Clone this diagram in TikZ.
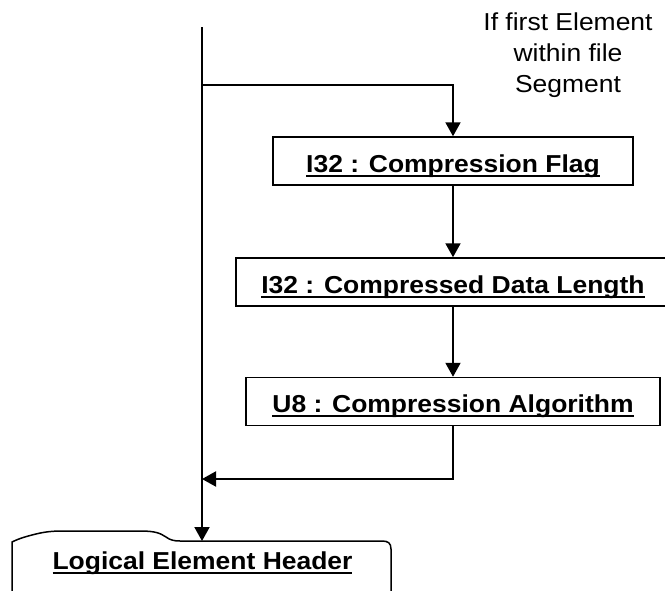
\documentclass[tikz,border=0pt]{standalone}
\usepackage{fontspec}
\setmainfont{Liberation Sans}[FakeStretch=1.08]
\usetikzlibrary{arrows.meta}

% underlined field name: the rule sits a little below the baseline and
% crosses the descenders
\newcommand\fieldname[1]{\leavevmode\setbox0\hbox{\bfseries #1}\dp0=0pt
  \vtop{\copy0\kern2.6pt\hrule height 2.2pt}}

\tikzset{
  field/.style={draw, line width=1.5pt, minimum height=48pt, inner sep=0pt,
    font=\fontsize{24.5}{28}\selectfont, text height=26pt, text depth=4pt},
  flow/.style={line width=2pt, -{Triangle[width=15pt,length=14pt]}},
}

\begin{document}
\begin{tikzpicture}[x=1pt,y=-1pt]
  \useasboundingbox (0,0) rectangle (665,590);

  % data fields
  \node[field, minimum width=360pt] (flag) at (453,161)
    {\fieldname{I32 : Compression Flag}};
  \node[field, minimum width=434pt] (len) at (453,282)
    {\fieldname{I32 : Compressed Data Length}};
  \node[field, minimum width=414pt] (alg) at (453,401.5)
    {\fieldname{U8 : Compression Algorithm}};

  % condition (base anchor = baseline of the last line)
  \node[align=center, font=\fontsize{24.5}{31}\selectfont, inner sep=0pt,
        anchor=base] (cond) at (568,92.7)
    {If first Element\\within file\\Segment};

  % header block with its tab
  \draw[line width=1.5pt]
    (12,600) -- (12,542)
    .. controls (20,538) and (28,536) .. (36,534)
    .. controls (44,532) and (52,531) .. (62,531)
    -- (140,531)
    .. controls (155,531) and (160,533) .. (166,537)
    .. controls (170,540) and (174,541) .. (180,541)
    -- (382,541)
    .. controls (388,541) and (391,543) .. (391,549)
    -- (391,600);
  \node[anchor=base, inner sep=0pt, font=\fontsize{24.5}{28}\selectfont]
    (hdr) at (202.5,569) {\fieldname{Logical Element Header}};
  \coordinate (hdrtop) at (202,541);

  % main line and branches
  \coordinate (start) at (202,27);
  \coordinate (split) at (202,85);
  \coordinate (join) at (202,479);

  \draw[flow] (start) -- (hdrtop);
  \draw[flow] (split) -| (flag.north);
  \draw[flow] (flag) -- (len);
  \draw[flow] (len) -- (alg);
  \draw[flow] (alg.south) |- (join);
\end{tikzpicture}
\end{document}
